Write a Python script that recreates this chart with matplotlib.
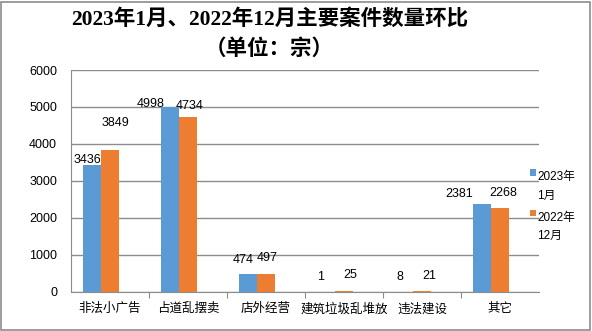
import matplotlib.pyplot as plt
import numpy as np
from matplotlib.patches import Rectangle

# case counts by category
categories = ["非法小广告", "占道乱摆卖", "店外经营", "建筑垃圾乱堆放", "违法建设", "其它"]
jan_2023 = [3436, 4998, 474, 1, 8, 2381]
dec_2022 = [3849, 4734, 497, 25, 21, 2268]
series_names = ["2023年\n1月", "2022年\n12月"]
colors = ["#5B9BD5", "#ED7D31"]

# where each value label sits relative to its bar top (pixels)
jan_offsets = [(-5, 5), (-19, 3), (-5, 14), (-6, 15), (-4, 15), (-23, 10)]
dec_offsets = [(5, 27), (2, 11), (1, 16), (6, 16), (7, 15), (3, 15)]

plt.rcParams['font.family'] = ['Liberation Sans', 'Noto Sans CJK SC']

fig = plt.figure(figsize=(5.92, 3.31), dpi=100)
fig.patches.append(Rectangle((0.002, 0.004), 0.994, 0.99, transform=fig.transFigure,
                             fill=False, edgecolor="#8c8c8c", linewidth=1.2))

ax = fig.add_axes([0.12, 0.118, 0.7905, 0.6705])

x = np.arange(len(categories))
w = 0.23
bars1 = ax.bar(x - w, jan_2023, w, color=colors[0], zorder=3)
bars2 = ax.bar(x, dec_2022, w, color=colors[1], zorder=3)

for bars, vals, offs in [(bars1, jan_2023, jan_offsets), (bars2, dec_2022, dec_offsets)]:
    for b, v, (dx, dy) in zip(bars, vals, offs):
        ax.annotate(str(v), (b.get_x() + b.get_width() / 2, v), xytext=(dx, dy),
                    textcoords="offset pixels", ha="center", va="center", fontsize=9)

ax.set_xlim(-0.5, len(categories) - 0.5)
ax.set_ylim(0, 6000)
ax.set_yticks(range(0, 6001, 1000))
ax.yaxis.grid(True, color="#8c8c8c", linewidth=1)
ax.set_axisbelow(True)

# category labels centred, tick marks on the boundaries
ax.set_xticks(np.arange(0.5, len(categories) - 0.5), minor=False)
ax.set_xticklabels([])
ax.set_xticks(x, minor=True)
ax.set_xticklabels(categories, minor=True, fontsize=9)
ax.tick_params(axis="x", which="major", length=4, color="#8c8c8c", direction="out")
ax.tick_params(axis="x", which="minor", length=0, pad=8)
ax.tick_params(axis="y", length=0, pad=10, labelsize=9)

for s in ["top", "right"]:
    ax.spines[s].set_visible(False)
for s in ["left", "bottom"]:
    ax.spines[s].set_color("#8c8c8c")

# legend entries on the right
for i, (name, c) in enumerate(zip(series_names, colors)):
    y = 0.48 - i * 0.122
    fig.patches.append(Rectangle((0.895, y - 0.012), 0.011, 0.02, transform=fig.transFigure,
                                 facecolor=c, edgecolor="none"))
    fig.text(0.907, y + 0.003, name, fontsize=8.5, va="top", ha="left", linespacing=1.75,
             transform=fig.transFigure)

title_font = ['Liberation Serif', 'Noto Sans CJK SC']
fig.text(0.455, 0.94, "2023年1月、2022年12月主要案件数量环比", ha="center", va="center",
         fontsize=15.5, fontweight="semibold", family=title_font)
fig.text(0.455, 0.85, "（单位：宗）", ha="center", va="center",
         fontsize=15.5, fontweight="semibold", family=title_font)

fig.savefig("out.png", dpi=100)
